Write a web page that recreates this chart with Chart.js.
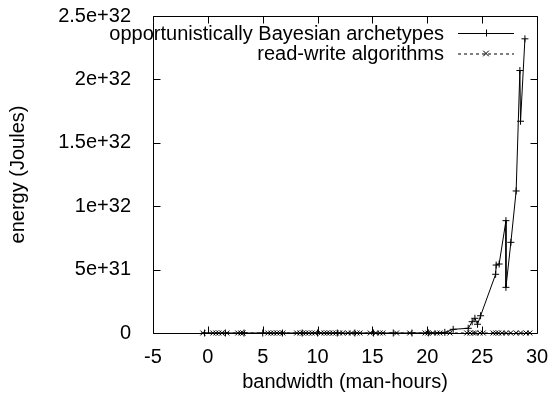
<!DOCTYPE html>
<html>
<head>
<meta charset="utf-8">
<script src="https://cdn.jsdelivr.net/npm/chart.js@4/dist/chart.umd.min.js"></script>
<style>
  html, body { margin: 0; padding: 0; background: #fff; }
  #wrap { width: 555px; height: 394px; }
</style>
</head>
<body>
<div id="wrap"><canvas id="chart" width="555" height="394"></canvas></div>
<script>
// data
const bayesLabel = "opportunistically Bayesian archetypes";
const bayesX = [-0.3, 1.6, 3.3, 5.0, 6.8, 8.6, 10.0, 11.8, 13.4, 15.1, 16.9, 18.6, 20.1, 21.6,
  22.36, 23.73, 24.09, 24.34, 24.58, 24.86, 26.23, 26.28, 26.55, 27.17, 27.17, 27.62, 28.1, 28.44, 28.5, 28.9];
const bayesY = [0, 0, 0, 0, 0, 0, 0, 0, 0, 0, 0, 0, 0.001e32, 0.005e32,
  0.029e32, 0.037e32, 0.089e32, 0.116e32, 0.069e32, 0.136e32, 0.463e32, 0.536e32, 0.544e32, 0.886e32, 0.36e32, 0.715e32, 1.12e32, 2.07e32, 1.67e32, 2.32e32];

const rwLabel = "read-write algorithms";
const rwX = [-0.46, 0.46, 0.73, 1.0, 1.28, 1.73, 2.73, 3.0, 3.2, 5.47, 5.74, 6.0, 6.3, 6.56, 6.84,
  8.1, 8.4, 8.66, 8.93, 9.2, 9.5, 9.75, 10.3, 10.6, 10.85, 11.1, 11.4, 11.67, 12.0, 12.3,
  12.76, 13.1, 13.6, 13.86, 14.8, 15.3, 15.7, 15.95, 17.2, 18.4, 19.8, 20.05, 20.5, 20.9,
  21.15, 22.06, 23.6, 23.9, 24.2, 24.4, 24.8, 25.1, 26.0, 26.25, 26.5, 26.8, 27.2, 27.6,
  28.1, 28.5, 29.0, 29.35];
const rwY = [0, 0, 0, 0, 0, 0, 0, 0, 0, 0, 0, 0, 0, 0, 0,
  0, 0, 0, 0, 0, 0, 0, 0, 0, 0, 0, 0, 0, 0, 0,
  0, 0, 0, 0, 0, 0, 0, 0, 0, 0, 0, 0, 0, 0,
  0, 0, 0, 0, 0, 0, 0, 0, 0, 0, 0, 0, 0, 0,
  0, 0, 0, 0];

const xTickLabels = ["-5", "0", "5", "10", "15", "20", "25", "30"];
const yTickLabels = ["0", "5e+31", "1e+32", "1.5e+32", "2e+32", "2.5e+32"];

const FONT = { family: "'Liberation Sans', Arial, sans-serif", size: 20 };

const toPoints = (xs, ys) => xs.map((x, i) => ({ x, y: ys[i] }));

// gnuplot-like frame, inward ticks on all sides and the key
const gnuplotFrame = {
  id: "gnuplotFrame",
  afterDraw(chart) {
    const { ctx, chartArea: a, scales } = chart;
    const tick = 7;
    const L = Math.round(a.left) + 0.5, R = Math.round(a.right) + 0.5;
    const T = Math.round(a.top) + 0.5, B = Math.round(a.bottom) + 0.5;
    ctx.save();
    ctx.setLineDash([]);
    ctx.strokeStyle = "#000";
    ctx.lineWidth = 1;
    ctx.beginPath();
    ctx.moveTo(L, T); ctx.lineTo(R, T); ctx.lineTo(R, B); ctx.lineTo(L, B); ctx.closePath();
    scales.x.ticks.forEach((t) => {
      const px = Math.round(scales.x.getPixelForValue(t.value)) + 0.5;
      ctx.moveTo(px, B); ctx.lineTo(px, B - tick);
      ctx.moveTo(px, T); ctx.lineTo(px, T + tick);
    });
    scales.y.ticks.forEach((t) => {
      const py = Math.round(scales.y.getPixelForValue(t.value)) + 0.5;
      ctx.moveTo(L, py); ctx.lineTo(L + tick, py);
      ctx.moveTo(R, py); ctx.lineTo(R - tick, py);
    });
    ctx.stroke();

    // key
    ctx.font = `${FONT.size}px ${FONT.family}`;
    ctx.fillStyle = "#000";
    ctx.textAlign = "right";
    ctx.textBaseline = "middle";
    chart.data.datasets.forEach((ds, i) => {
      const y = 33 + i * 20.5;
      ctx.fillText(ds.label, 444, y + 1);
      ctx.beginPath();
      ctx.setLineDash(ds.borderDash || []);
      ctx.moveTo(458, y + 0.5); ctx.lineTo(514, y + 0.5);
      ctx.stroke();
      ctx.setLineDash([]);
      const cx = 486, r = 3.5;
      ctx.beginPath();
      if (ds.pointStyle === "cross") {
        ctx.moveTo(cx - r, y + 0.5); ctx.lineTo(cx + r, y + 0.5);
        ctx.moveTo(cx + 0.5, y - r); ctx.lineTo(cx + 0.5, y + r);
      } else {
        ctx.moveTo(cx - r * 0.8, y - r * 0.8); ctx.lineTo(cx + r * 0.8, y + r * 0.8);
        ctx.moveTo(cx - r * 0.8, y + r * 0.8); ctx.lineTo(cx + r * 0.8, y - r * 0.8);
      }
      ctx.stroke();
    });
    ctx.restore();
  }
};

new Chart(document.getElementById("chart"), {
  type: "scatter",
  data: {
    datasets: [
      {
        label: bayesLabel,
        data: toPoints(bayesX, bayesY),
        showLine: true,
        borderColor: "#000",
        backgroundColor: "#000",
        borderWidth: 1,
        pointStyle: "cross",
        pointRadius: 3.5,
        pointBorderWidth: 1,
        tension: 0,
        clip: 6
      },
      {
        label: rwLabel,
        data: toPoints(rwX, rwY),
        showLine: true,
        borderColor: "#000",
        backgroundColor: "#000",
        borderWidth: 1,
        borderDash: [3, 3],
        pointStyle: "crossRot",
        pointRadius: 3.5,
        pointBorderWidth: 1,
        tension: 0,
        clip: 6
      }
    ]
  },
  options: {
    responsive: false,
    animation: false,
    layout: { padding: { top: 16, right: 18, left: 0, bottom: 0 } },
    plugins: { legend: { display: false }, tooltip: { enabled: false } },
    scales: {
      x: {
        type: "linear",
        min: -5,
        max: 30,
        grid: { display: false },
        border: { display: false },
        ticks: {
          stepSize: 5,
          color: "#000",
          font: FONT,
          padding: 4,
          maxRotation: 0,
          callback: (v, i) => xTickLabels[i]
        },
        title: {
          display: true,
          text: "bandwidth (man-hours)",
          color: "#000",
          font: FONT,
          padding: { top: 0, bottom: 0 }
        },
        afterFit: (s) => {
          s.height = 61;
          s.paddingLeft = 0;
          s.paddingRight = 0;
        }
      },
      y: {
        type: "linear",
        min: 0,
        max: 2.5e32,
        grid: { display: false },
        border: { display: false },
        ticks: {
          stepSize: 5e31,
          color: "#000",
          font: FONT,
          padding: 14,
          callback: (v, i) => yTickLabels[i]
        },
        title: {
          display: true,
          text: "energy (Joules)",
          color: "#000",
          font: FONT,
          padding: { top: 6, bottom: 0 }
        },
        afterFit: (s) => {
          s.width = 153;
          s.paddingTop = 0;
          s.paddingBottom = 0;
        }
      }
    }
  },
  plugins: [gnuplotFrame]
});
</script>
</body>
</html>
